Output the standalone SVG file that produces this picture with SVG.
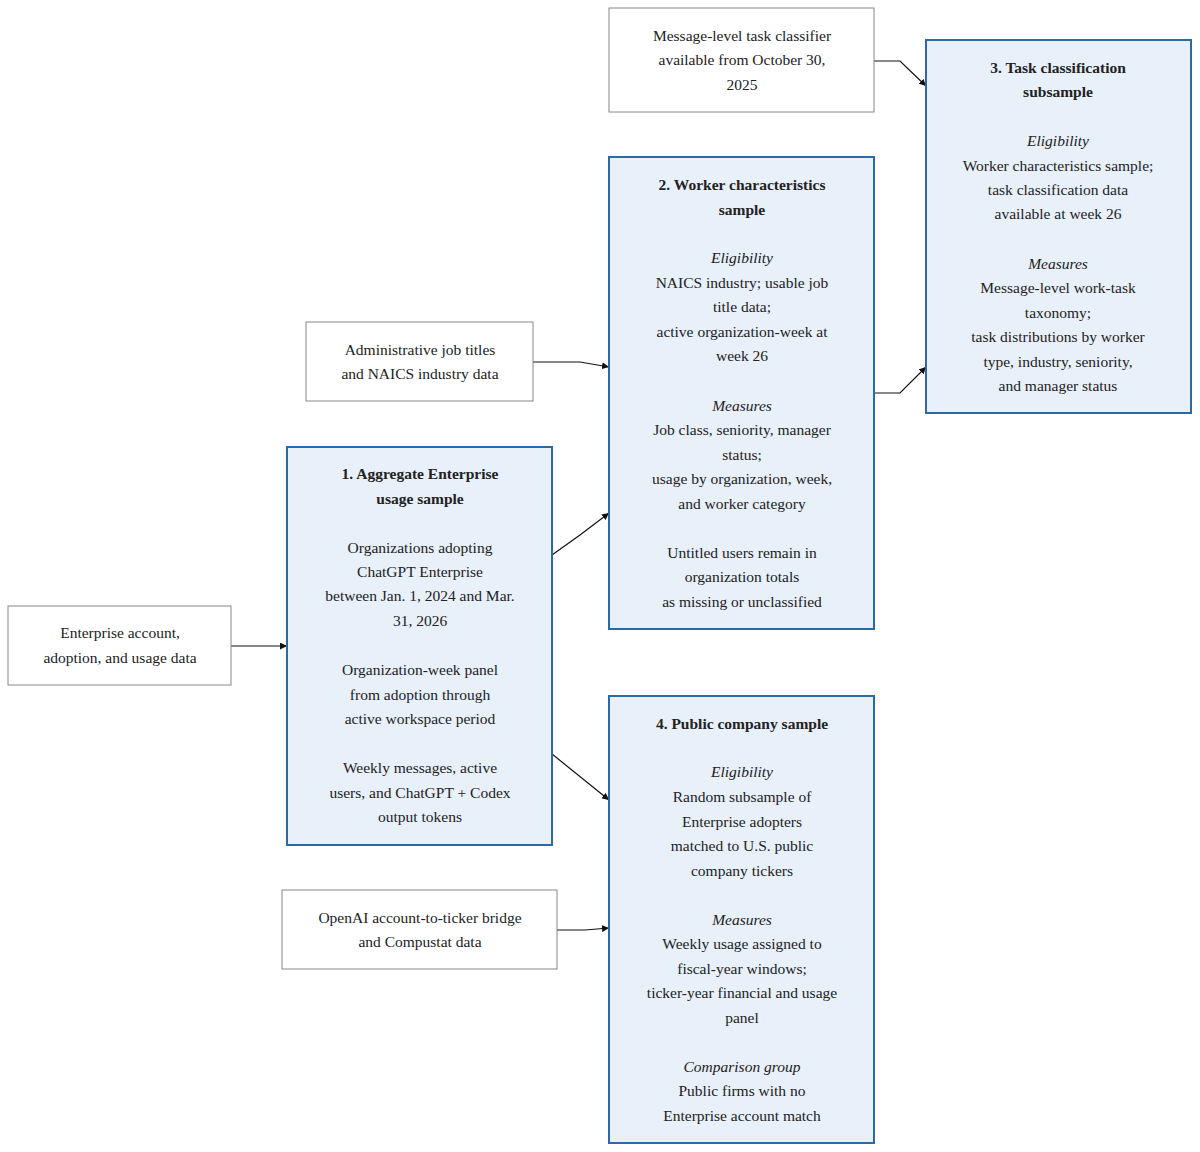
<svg xmlns="http://www.w3.org/2000/svg" width="1200" height="1152" viewBox="0 0 1200 1152">
<style>
text{font-family:"Liberation Serif","Times New Roman",serif;font-size:15.5px;fill:#222;text-anchor:middle}
.b{font-weight:bold}.i{font-style:italic}
.src{fill:#fff;stroke:#888;stroke-width:1}
.main{fill:#e8f0fa;stroke:#2b69ab;stroke-width:2}
.c{fill:none;stroke:#111;stroke-width:1.2;marker-end:url(#a)}
</style>
<defs><marker id="a" viewBox="0 0 10 10" refX="10" refY="5" markerWidth="7" markerHeight="7" orient="auto" markerUnits="userSpaceOnUse"><path d="M0 0L10 5L0 10z" fill="#111"/></marker></defs>
<rect width="1200" height="1152" fill="#fff"/>
<g id="connectors">
<path class="c" d="M231 646H287"/>
<path class="c" d="M533 362H580L609 367"/>
<path class="c" d="M552 555L580 535L609 513"/>
<path class="c" d="M552 754L609 800"/>
<path class="c" d="M557 930H585L609 928"/>
<path class="c" d="M874 61H900L926 86"/>
<path class="c" d="M874 393H900L926 367"/>
</g>
<g id="enterprise"><rect class="src" x="8" y="606" width="223" height="79"/>
<text x="120" y="638">Enterprise account,</text><text x="120" y="663">adoption, and usage data</text></g>
<g id="admin"><rect class="src" x="306" y="322" width="227" height="79"/>
<text x="420" y="355">Administrative job titles</text><text x="420" y="379">and NAICS industry data</text></g>
<g id="msg"><rect class="src" x="609" y="8" width="265" height="104"/>
<text x="742" y="41">Message-level task classifier</text><text x="742" y="65">available from October 30,</text><text x="742" y="90">2025</text></g>
<g id="openai"><rect class="src" x="282" y="890" width="275" height="79"/>
<text x="420" y="923">OpenAI account-to-ticker bridge</text><text x="420" y="947">and Compustat data</text></g>
<g id="box1"><rect class="main" x="287" y="447" width="265" height="398"/>
<text class="b" x="420" y="479">1. Aggregate Enterprise</text><text class="b" x="420" y="504">usage sample</text>
<text x="420" y="553">Organizations adopting</text><text x="420" y="577">ChatGPT Enterprise</text><text x="420" y="601">between Jan. 1, 2024 and Mar.</text><text x="420" y="626">31, 2026</text>
<text x="420" y="675">Organization-week panel</text><text x="420" y="700">from adoption through</text><text x="420" y="724">active workspace period</text>
<text x="420" y="773">Weekly messages, active</text><text x="420" y="798">users, and ChatGPT + Codex</text><text x="420" y="822">output tokens</text></g>
<g id="box2"><rect class="main" x="609" y="157" width="265" height="472"/>
<text class="b" x="742" y="190">2. Worker characteristics</text><text class="b" x="742" y="215">sample</text>
<text class="i" x="742" y="263">Eligibility</text><text x="742" y="288">NAICS industry; usable job</text><text x="742" y="312">title data;</text><text x="742" y="337">active organization-week at</text><text x="742" y="361">week 26</text>
<text class="i" x="742" y="411">Measures</text><text x="742" y="435">Job class, seniority, manager</text><text x="742" y="460">status;</text><text x="742" y="484">usage by organization, week,</text><text x="742" y="509">and worker category</text>
<text x="742" y="558">Untitled users remain in</text><text x="742" y="582">organization totals</text><text x="742" y="607">as missing or unclassified</text></g>
<g id="box3"><rect class="main" x="926" y="40" width="265" height="373"/>
<text class="b" x="1058" y="73">3. Task classification</text><text class="b" x="1058" y="97">subsample</text>
<text class="i" x="1058" y="146">Eligibility</text><text x="1058" y="171">Worker characteristics sample;</text><text x="1058" y="195">task classification data</text><text x="1058" y="219">available at week 26</text>
<text class="i" x="1058" y="269">Measures</text><text x="1058" y="293">Message-level work-task</text><text x="1058" y="318">taxonomy;</text><text x="1058" y="342">task distributions by worker</text><text x="1058" y="367">type, industry, seniority,</text><text x="1058" y="391">and manager status</text></g>
<g id="box4"><rect class="main" x="609" y="696" width="265" height="447"/>
<text class="b" x="742" y="729">4. Public company sample</text>
<text class="i" x="742" y="777">Eligibility</text><text x="742" y="802">Random subsample of</text><text x="742" y="827">Enterprise adopters</text><text x="742" y="851">matched to U.S. public</text><text x="742" y="876">company tickers</text>
<text class="i" x="742" y="925">Measures</text><text x="742" y="949">Weekly usage assigned to</text><text x="742" y="974">fiscal-year windows;</text><text x="742" y="998">ticker-year financial and usage</text><text x="742" y="1023">panel</text>
<text class="i" x="742" y="1072">Comparison group</text><text x="742" y="1096">Public firms with no</text><text x="742" y="1121">Enterprise account match</text></g>
</svg>
